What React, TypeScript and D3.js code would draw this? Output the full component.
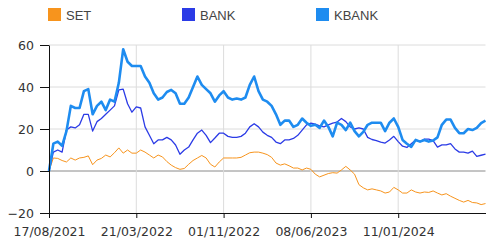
import React, { useEffect, useRef } from 'react';
import * as d3 from 'd3';

// sampled every ~1/20 of a tick interval (trading-day axis)
const tickLabels = ['17/08/2021', '21/03/2022', '01/11/2022', '08/06/2023', '11/01/2024'];
const tickIndex = [0, 20, 40, 60, 80];

const setValues = [
  0, 6.2, 6, 5, 4.3, 6.2, 5.2, 6.2, 6.5, 7.2,
  3, 5.2, 6, 7.6, 6.7, 8.7, 11, 8.5, 10, 8.5,
  8.5, 10, 9, 7.6, 6.2, 7.6, 6.7, 4.5, 2.8, 1.6,
  0.8, 1.2, 3.2, 5, 6.2, 7.4, 6.2, 3.2, 1.9, 4.3,
  6.2, 6.2, 6.2, 6.2, 6.5, 7.6, 8.7, 9, 9, 8.5,
  7.8, 6.5, 3.8, 2.8, 3.4, 2.5, 1.4, 1.4, 0.5, 1.4,
  0.8, -1.5, -2.8, -2, -1.2, -0.8, -1, 0.5, 2.2, 0.5,
  -1.5, -6.5, -8, -9, -8.5, -9, -9.5, -10.5, -10, -7.8,
  -9, -10.5, -10.5, -9, -10, -10.5, -10, -10.2, -9.5, -10.5,
  -11.4, -10.8, -12, -13, -14, -14.8, -14, -15, -15.2, -16,
  -15.5,
];

const bankValues = [
  0, 9, 10, 9, 19.5, 21, 20.5, 22, 27, 27,
  19, 23.5, 25, 27, 29, 31, 38.6, 39, 32, 28,
  30.5, 30, 21, 17, 13, 14.8, 14.8, 16, 14.8, 12.4,
  8, 10, 11.4, 14.8, 18, 19.5, 17, 13.5, 15.7, 18,
  18, 16.5, 16, 16, 16.5, 18, 21, 22.5, 21, 18.5,
  17, 16, 13.8, 13, 14.8, 14.8, 15.5, 17, 19.5, 22,
  22.8, 22.3, 21.5, 21, 22, 22.8, 23.3, 25, 23.5, 21,
  20, 20.5, 20, 16, 15, 14.5, 13.8, 13.3, 14.8, 16.5,
  14, 11.8, 11.2, 13, 14.8, 14, 15.2, 15.2, 14.5, 11.4,
  12.4, 12.4, 13, 10.5, 9, 9, 8.5, 9.5, 7, 7.5,
  8,
];

const kbankValues = [
  0, 13, 14, 12, 19, 31, 30, 30, 38, 39,
  27, 31, 33, 29, 34, 33, 42, 58, 52, 50,
  50, 50, 45, 42, 37, 34, 35, 37.6, 38.6, 37,
  32, 32, 35, 40, 45, 41, 39, 37, 33, 36,
  38, 35, 34, 34.5, 34, 35, 41, 45, 38, 34,
  33, 31, 27, 22, 24, 24, 21, 22, 25, 23,
  21.5, 22, 20.5, 24, 21, 16.5, 23, 22, 19.5, 23,
  19, 16.5, 18.6, 22, 23, 23, 23, 19, 23, 25,
  21, 14.8, 13, 11.5, 14.8, 14, 14.8, 14, 14.5, 16,
  22, 24.5, 24.5, 20.5, 18, 18, 20, 19.5, 20.5, 22.8,
  24,
];

const seriesNames = ['SET', 'BANK', 'KBANK'];
const seriesColors = ['#f7941d', '#2b3be6', '#1e8cf0'];
const seriesWidths = [1, 1.3, 2.6];
const yTicks = [-20, 0, 20, 40, 60];

export default function App() {
  const svgRef = useRef<SVGSVGElement>(null);

  useEffect(() => {
    if (!svgRef.current) return;
    const svg = d3.select(svgRef.current);
    svg.selectAll('*').remove();

    const left = 49, right = 485.5, top = 45, bottom = 213;
    const x = d3.scaleLinear().domain([0, 100]).range([left, right]);
    const y = d3.scaleLinear().domain([-20, 60]).range([bottom, top]);

    // grid
    const grid = svg.append('g');
    yTicks.filter(t => t > -20).forEach(t => {
      grid.append('line')
        .attr('x1', left).attr('x2', right)
        .attr('y1', y(t)).attr('y2', y(t))
        .attr('stroke', t === 0 ? '#8a8a8a' : '#dcdcdc')
        .attr('stroke-width', 1);
    });
    tickIndex.filter(t => t > 0).forEach(t => {
      grid.append('line')
        .attr('x1', x(t)).attr('x2', x(t))
        .attr('y1', top).attr('y2', bottom)
        .attr('stroke', '#dcdcdc');
    });

    // lines
    const all = [setValues, bankValues, kbankValues];
    all.forEach((vals, k) => {
      const line = d3.line<number>().x((_, i) => x(i)).y(d => y(d));
      svg.append('path')
        .attr('d', line(vals))
        .attr('fill', 'none')
        .attr('stroke', seriesColors[k])
        .attr('stroke-width', seriesWidths[k])
        .attr('stroke-linejoin', 'round');
    });

    // axes
    const yAxis = d3.axisLeft(y).tickValues(yTicks).tickSize(9).tickPadding(6).tickSizeOuter(0);
    const gy = svg.append('g').attr('transform', `translate(${left},0)`).call(yAxis);
    const xAxis = d3.axisBottom(x).tickValues(tickIndex)
      .tickFormat((d, i) => tickLabels[i]).tickSize(5).tickPadding(9).tickSizeOuter(0);
    const gx = svg.append('g').attr('transform', `translate(0,${bottom})`).call(xAxis);

    [gx, gy].forEach(g => {
      g.select('.domain').attr('stroke', '#111');
      g.selectAll('.tick line').attr('stroke', '#111');
      g.selectAll('text')
        .attr('font-family', 'DejaVu Sans, Verdana, sans-serif')
        .attr('font-size', 12.5)
        .attr('fill', '#333');
    });

    // legend
    const legendX = [48, 182, 316];
    seriesNames.forEach((name, k) => {
      svg.append('rect')
        .attr('x', legendX[k]).attr('y', 8)
        .attr('width', 13).attr('height', 13)
        .attr('fill', seriesColors[k]);
      svg.append('text')
        .attr('x', legendX[k] + 18).attr('y', 20)
        .attr('font-family', 'Liberation Sans, Arial, sans-serif')
        .attr('font-size', 13)
        .attr('fill', '#444')
        .text(name);
    });
  }, []);

  return (
    <svg
      ref={svgRef}
      width={486}
      height={244}
      style={{ position: 'absolute', left: 0, top: 0, background: '#fff' }}
    />
  );
}
